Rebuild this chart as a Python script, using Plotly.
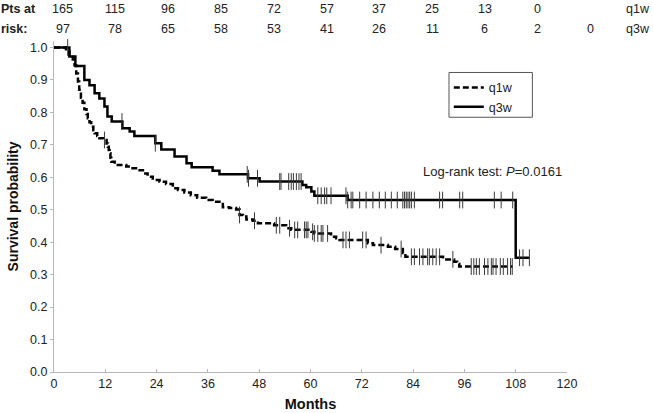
import plotly.graph_objects as go

# ---- data ----
# q3w (solid) Kaplan-Meier steps: time (months) and survival after the step
q3w_t = [0, 3.6, 5.0, 7.1, 8.3, 9.5, 10.6, 11.8, 12.5, 13.5, 16.0, 17.7, 18.8, 23.7, 25.1,
         28.2, 31.0, 32.2, 37.1, 38.7, 45.4, 48.1, 58.1, 59.0, 60.2, 60.9, 68.7, 108.0, 111.2]
q3w_s = [1.0, 0.972, 0.943, 0.900, 0.884, 0.859, 0.843, 0.818, 0.787, 0.772, 0.751, 0.741, 0.727,
         0.705, 0.686, 0.664, 0.643, 0.631, 0.620, 0.609, 0.597, 0.587, 0.576, 0.569, 0.556, 0.543,
         0.530, 0.352, 0.352]
q3w_cens = [3.2, 15.9, 23.7, 45.2, 45.5, 47.6, 52.8, 53.1, 54.9, 55.5, 56.0, 56.7, 57.3, 57.8,
            61.7, 62.5, 63.3, 63.8, 64.8, 68.3, 68.7, 69.5, 69.9, 71.5, 73.0, 74.6, 76.1, 77.5,
            78.9, 80.3, 81.6, 82.0, 82.4, 82.8, 83.2, 83.6, 84.3, 90.2, 90.9, 94.9, 95.6, 103.0,
            104.6, 107.3, 108.9, 109.7, 111.2]

# q1w (dashed)
q1w_t = [0, 2.8, 3.6, 4.4, 4.8, 5.2, 5.6, 5.9, 6.3, 6.7, 7.1, 7.6, 7.9, 8.3, 8.7, 9.2, 9.5, 10.1,
         10.6, 11.6, 12.3, 12.6, 12.8, 13.0, 13.2, 13.4, 14.2, 16.9, 18.0, 19.6, 20.8, 21.9, 23.1,
         24.7, 26.2, 27.8, 29.0, 30.5, 32.0, 33.5, 35.6, 37.1, 38.7, 39.5, 41.0, 42.6, 43.4, 44.2,
         45.0, 46.5, 47.7, 51.5, 54.3, 55.5, 60.2, 60.9, 64.8, 66.0, 66.8, 73.4, 74.6, 78.1, 79.8,
         81.6, 82.2, 91.0, 93.6, 94.3, 94.8, 107.3]
q1w_s = [1.0, 0.988, 0.975, 0.963, 0.945, 0.920, 0.895, 0.870, 0.845, 0.830, 0.810, 0.795, 0.782,
         0.770, 0.756, 0.745, 0.736, 0.727, 0.720, 0.715, 0.704, 0.694, 0.684, 0.674, 0.660, 0.648,
         0.638, 0.633, 0.628, 0.622, 0.612, 0.602, 0.592, 0.586, 0.579, 0.566, 0.561, 0.553, 0.545,
         0.537, 0.530, 0.525, 0.518, 0.508, 0.505, 0.501, 0.484, 0.479, 0.470, 0.466, 0.458, 0.452,
         0.443, 0.438, 0.432, 0.427, 0.417, 0.412, 0.407, 0.397, 0.391, 0.386, 0.379, 0.367, 0.355,
         0.347, 0.340, 0.333, 0.325, 0.325]
q1w_cens = [11.8, 43.4, 46.9, 52.0, 52.8, 55.1, 56.3, 57.0, 58.6, 59.0, 59.4, 60.5, 60.9, 61.7,
            62.5, 62.9, 64.0, 67.6, 68.3, 69.1, 72.2, 73.0, 76.5, 81.2, 83.6, 84.3, 85.5, 86.3,
            87.4, 87.8, 88.6, 89.4, 90.2, 93.3, 97.6, 98.2, 98.8, 99.5, 100.7, 101.5, 102.3, 102.7,
            103.4, 104.4, 105.1, 106.1, 106.8, 107.2]

# numbers at risk (columns at 0, 12, ... months)
risk_q1w = [165, 115, 96, 85, 72, 57, 37, 25, 13, 0]
risk_q3w = [97, 78, 65, 58, 53, 41, 26, 11, 6, 2, 0]

x_ticks = [0, 12, 24, 36, 48, 60, 72, 84, 96, 108, 120]
y_ticks = [0.0, 0.1, 0.2, 0.3, 0.4, 0.5, 0.6, 0.7, 0.8, 0.9, 1.0]

FONT = "Liberation Sans, Arial, sans-serif"
X_MAX = 120.0
Y_MAX = 1.02


def surv_at(ts, ss, t):
    v = ss[0]
    for ti, si in zip(ts, ss):
        if ti <= t:
            v = si
    return v


def px(month):   # month -> paper x
    return month / X_MAX


def py(val):     # survival-scale value -> paper y
    return val / Y_MAX


fig = go.Figure()

fig.add_trace(go.Scatter(x=q1w_t, y=q1w_s, mode="lines", name="q1w",
                         line=dict(shape="hv", color="black", width=2.5, dash="6px,3px")))
fig.add_trace(go.Scatter(x=q3w_t, y=q3w_s, mode="lines", name="q3w",
                         line=dict(shape="hv", color="black", width=2.5)))

for ts, ss, cens in [(q1w_t, q1w_s, q1w_cens), (q3w_t, q3w_s, q3w_cens)]:
    fig.add_trace(go.Scatter(
        x=cens, y=[surv_at(ts, ss, c) for c in cens], mode="markers", showlegend=False,
        hoverinfo="skip", cliponaxis=False,
        marker=dict(symbol="line-ns-open", size=12, color="#3a3a3a",
                    line=dict(color="#3a3a3a", width=1))))

# risk table
ROW1, ROW2 = 1.1186, 1.0585
col_w = 12.35  # month-units per risk-table column
tfont = dict(family=FONT, size=12.5, color="#222222")
for i, v in enumerate(risk_q1w):
    fig.add_annotation(x=px(2.0 + col_w * i), y=py(ROW1), xref="paper", yref="paper",
                       text=str(v), showarrow=False, xanchor="center", yanchor="middle",
                       font=tfont)
for i, v in enumerate(risk_q3w):
    fig.add_annotation(x=px(2.0 + col_w * i), y=py(ROW2), xref="paper", yref="paper",
                       text=str(v), showarrow=False, xanchor="center", yanchor="middle",
                       font=tfont)
for txt, yy in [("<b>Pts at</b>", ROW1), ("<b>risk:</b>", ROW2)]:
    fig.add_annotation(x=px(-12.75), y=py(yy), xref="paper", yref="paper", text=txt,
                       showarrow=False, xanchor="left", yanchor="middle", font=tfont)
for txt, yy in [("q1w", ROW1), ("q3w", ROW2)]:
    fig.add_annotation(x=px(139.8), y=py(yy), xref="paper", yref="paper", text=txt,
                       showarrow=False, xanchor="right", yanchor="middle", font=tfont)

fig.add_annotation(x=102.5, y=0.617, xref="x", yref="y",
                   text="Log-rank test: <i>P</i>=0.0161", showarrow=False,
                   xanchor="center", yanchor="middle",
                   font=dict(family=FONT, size=13, color="#222222"))

# legend frame (box slightly wider than plotly's auto-sized legend)
fig.add_shape(type="rect", xref="paper", yref="paper",
              x0=px(92.4), x1=px(111.9), y0=py(0.785), y1=py(0.923),
              line=dict(color="#555555", width=1), fillcolor="rgba(0,0,0,0)", layer="above")

fig.update_layout(
    width=653, height=413,
    margin=dict(l=54, r=86, t=41, b=41, autoexpand=False),
    paper_bgcolor="white", plot_bgcolor="white",
    font=dict(family=FONT, size=12, color="#222222"),
    showlegend=True,
    legend=dict(x=0.7696, y=0.904, xanchor="left", yanchor="top",
                borderwidth=0, bgcolor="rgba(0,0,0,0)",
                font=dict(family=FONT, size=12.5, color="#222222"),
                itemwidth=30, tracegroupgap=0),
    xaxis=dict(range=[0, X_MAX], tickvals=x_ticks, ticktext=[str(v) for v in x_ticks],
               showgrid=False, zeroline=False, showline=True, linecolor="#b8b8b8", linewidth=1,
               ticks="inside", ticklen=3, tickcolor="#b8b8b8",
               tickfont=dict(family=FONT, size=12.5, color="#222222"),
               title=dict(text="<b>Months</b>", standoff=8,
                          font=dict(family=FONT, size=14.5, color="#111111"))),
    yaxis=dict(range=[0, Y_MAX], tickvals=y_ticks, ticktext=[f"{v:.1f}" for v in y_ticks],
               showgrid=False, zeroline=False, showline=True, linecolor="#b8b8b8", linewidth=1,
               ticks="outside", ticklen=3, tickcolor="#b8b8b8",
               tickfont=dict(family=FONT, size=12.5, color="#222222"),
               title=dict(text="<b>Survival probability</b>", standoff=8,
                          font=dict(family=FONT, size=14, color="#111111"))),
)

fig.write_html("out.html", config={"displayModeBar": False},
               post_script="document.body.style.margin='0px';document.body.style.overflow='hidden';")
